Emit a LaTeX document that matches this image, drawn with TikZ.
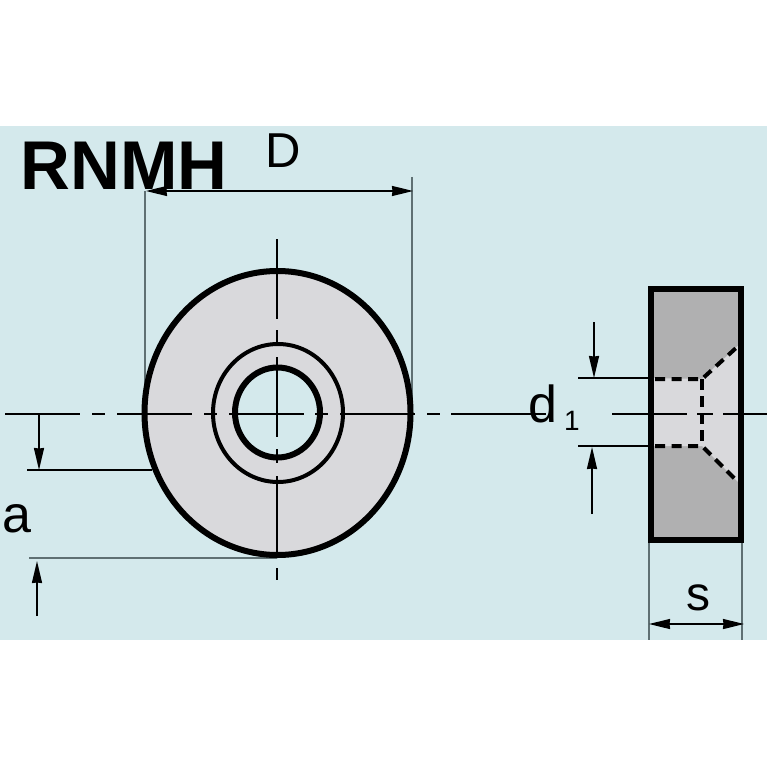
\documentclass[tikz,border=0pt]{standalone}
\usepackage{fontspec}
\setmainfont{Liberation Sans}
\usetikzlibrary{arrows.meta}
\definecolor{panel}{HTML}{D4E9EC}
\definecolor{lightgrey}{HTML}{D9D9DC}
\definecolor{darkgrey}{HTML}{B0B0B1}
\definecolor{extgrey}{HTML}{5F7073}
\tikzset{
  centre/.style={black,line width=1.9pt},
  thick outline/.style={black,line width=6pt},
  ring/.style={black,line width=4pt},
  hidden/.style={black,line width=4pt,dash pattern=on 10pt off 6.5pt},
  ext/.style={extgrey,line width=1.2pt},
  extdark/.style={black,line width=1.6pt},
  dim/.style={black,line width=1.7pt,-{Stealth[length=22pt,width=10pt,inset=0.5pt]}},
  dimboth/.style={black,line width=1.7pt,{Stealth[length=21pt,width=10pt,inset=0.5pt]}-{Stealth[length=21pt,width=10pt,inset=0.5pt]}},
  lbl/.style={inner sep=0pt,anchor=base,black},
}
\newcommand{\fs}[1]{\fontsize{#1}{#1}\selectfont}
\begin{document}
\begin{tikzpicture}[x=1pt,y=-1pt]
\useasboundingbox (0,0) rectangle (767,767);
\fill[white] (0,0) rectangle (767,767);
\fill[panel] (0,126) rectangle (767,640);

% title
\node[lbl,anchor=base west] (title) at (20.5,190) {\fs{69}\bfseries RNMH};

% extension lines
\draw[ext] (145,191) -- (145,385);
\draw[ext] (412,177) -- (412,400);
\draw[extdark] (27,470) -- (152,470);
\draw[ext] (29,558) -- (277,558);
\draw[extdark] (578,378) -- (650,378);
\draw[extdark] (578,446) -- (650,446);
\draw[ext] (649,541) -- (649,640);
\draw[ext] (742,541) -- (742,640);

% front view
\draw[thick outline,fill=lightgrey] (277.5,413) ellipse [x radius=133,y radius=142];
\draw[ring] (278,413) ellipse [x radius=65,y radius=69];
\draw[thick outline,fill=panel] (277.5,412.5) ellipse [x radius=42.5,y radius=45];

% side view
\fill[darkgrey] (650,288) rectangle (741,540);
\fill[lightgrey] (650,378) -- (702,379) -- (741,343) -- (741,485) -- (702,446) -- (650,446) -- cycle;
\draw[hidden] (655,379) -- (702,379) -- (736,348);
\draw[hidden] (655,446) -- (702,446) -- (738,482);
\draw[hidden,dash pattern=on 11pt off 6pt] (702,379) -- (702,446);
\draw[thick outline,line join=miter] (651,288.5) rectangle (740.5,540);

% centre lines
\foreach \a/\b in {5/80,92/105,117/192,204/217,229/304,315/328,340/415,427/440,451/546,612/687,697/713,723/767}
  \draw[centre] (\a,414) -- (\b,414);
\foreach \a/\b in {239/319,330/345,357/437,449/463,476/555,568/580}
  \draw[centre] (277,\a) -- (277,\b);

% dimensions
\draw[dimboth] (146,191) -- (413,191);
\draw[dim] (39,414) -- (39,470);
\draw[dim] (37,616) -- (37,561);
\draw[dim] (594,322) -- (594,378);
\draw[dim] (592,514) -- (592,447);
\draw[dimboth] (649,624) -- (744,624);

% labels
\node[lbl] (labD) at (283,168) {\fs{49}D};
\node[lbl] (labd) at (543,422) {\fs{52}d};
\node[lbl] (labone) at (572,430) {\fs{28}1};
\node[lbl] (laba) at (17,532) {\fs{52}a};
\node[lbl] (labs) at (698,610) {\fs{48}s};
\end{tikzpicture}
\end{document}
